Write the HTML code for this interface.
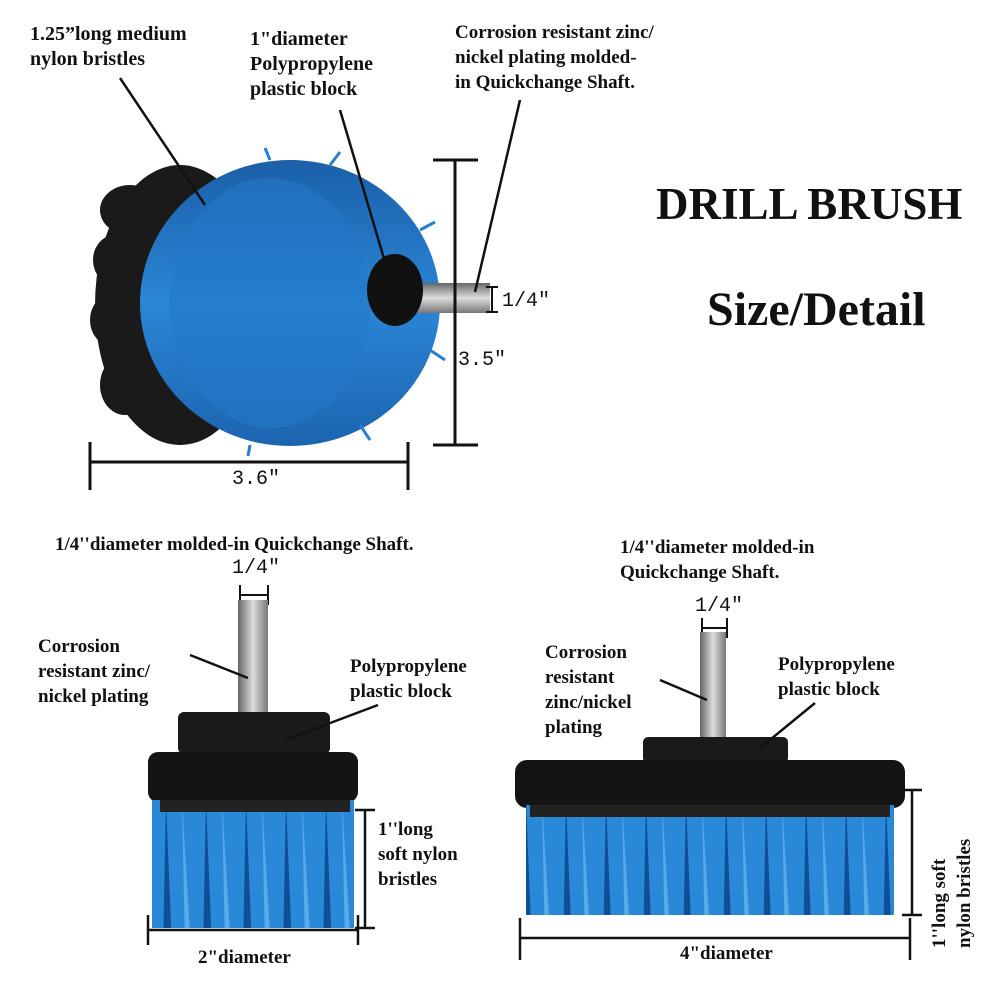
<!DOCTYPE html>
<html><head><meta charset="utf-8">
<style>
html,body{margin:0;padding:0;background:#fff;}
svg{display:block;}
text{font-family:"Liberation Serif",serif;font-weight:bold;fill:#111;}
.m{font-family:"Liberation Mono",monospace;font-weight:normal;}
</style></head><body>
<svg width="1000" height="1000" viewBox="0 0 1000 1000" xmlns="http://www.w3.org/2000/svg">
<defs>
<linearGradient id="bl" x1="0" x2="0" y1="0" y2="1">
<stop offset="0" stop-color="#1b5fa8"/><stop offset="0.5" stop-color="#2a86d6"/><stop offset="1" stop-color="#1c64b0"/>
</linearGradient>
<pattern id="str" width="40" height="200" patternUnits="userSpaceOnUse">
<rect width="40" height="200" fill="#2a88d8"/>
<path d="M6 0 L14 200 L2 200Z" fill="#0e4f96"/>
<path d="M22 0 L26 200 L34 200Z" fill="#5aaae8"/>
</pattern>
<linearGradient id="sh" x1="0" x2="1"><stop offset="0" stop-color="#666"/><stop offset="0.5" stop-color="#ddd"/><stop offset="1" stop-color="#777"/></linearGradient>
<linearGradient id="shv" x1="0" x2="0" y1="0" y2="1"><stop offset="0" stop-color="#666"/><stop offset="0.5" stop-color="#ddd"/><stop offset="1" stop-color="#777"/></linearGradient>
</defs>

<!-- top brush -->
<ellipse cx="180" cy="305" rx="85" ry="140" fill="#1a1a1a"/>
<g fill="#1a1a1a">
<ellipse cx="130" cy="210" rx="30" ry="25"/><ellipse cx="115" cy="260" rx="22" ry="25"/><ellipse cx="110" cy="320" rx="20" ry="25"/><ellipse cx="125" cy="385" rx="25" ry="30"/>
</g>
<ellipse cx="290" cy="303" rx="150" ry="143" fill="url(#bl)"/>
<g stroke="#2a7fd0" stroke-width="3">
<line x1="270" y1="160" x2="265" y2="148"/><line x1="330" y1="165" x2="340" y2="152"/><line x1="420" y1="230" x2="435" y2="222"/><line x1="430" y1="350" x2="445" y2="360"/><line x1="360" y1="425" x2="370" y2="440"/><line x1="250" y1="445" x2="248" y2="456"/>
</g>
<ellipse cx="270" cy="303" rx="100" ry="125" fill="#2378c8" opacity="0.6"/>
<rect x="410" y="283" width="80" height="30" fill="url(#shv)"/>
<ellipse cx="395" cy="290" rx="28" ry="36" fill="#111"/>

<!-- top dimension lines -->
<g stroke="#111" stroke-width="3" fill="none">
<line x1="455" y1="160" x2="455" y2="445"/>
<line x1="433" y1="160" x2="478" y2="160"/>
<line x1="433" y1="445" x2="478" y2="445"/>
<line x1="90" y1="462" x2="408" y2="462"/>
<line x1="90" y1="442" x2="90" y2="490"/>
<line x1="408" y1="442" x2="408" y2="490"/>
<line x1="492" y1="287" x2="492" y2="312" stroke-width="2"/>
<line x1="486" y1="287" x2="498" y2="287" stroke-width="2"/>
<line x1="486" y1="312" x2="498" y2="312" stroke-width="2"/>
</g>
<g stroke="#111" stroke-width="2.5">
<line x1="120" y1="78" x2="205" y2="205"/>
<line x1="340" y1="110" x2="385" y2="262"/>
<line x1="520" y1="100" x2="475" y2="292"/>
</g>
<text class="m" x="458" y="365" font-size="20">3.5″</text>
<text class="m" x="502" y="306" font-size="20">1/4″</text>
<text class="m" x="232" y="484" font-size="20">3.6″</text>

<text x="30" y="40" font-size="20">1.25”long medium</text>
<text x="30" y="65" font-size="20">nylon bristles</text>
<text x="250" y="45" font-size="20">1"diameter</text>
<text x="250" y="70" font-size="20">Polypropylene</text>
<text x="250" y="95" font-size="20">plastic block</text>
<text x="455" y="38" font-size="19">Corrosion resistant zinc/</text>
<text x="455" y="63" font-size="19">nickel plating molded-</text>
<text x="455" y="88" font-size="19">in Quickchange Shaft.</text>
<text x="656" y="219" font-size="45">DRILL BRUSH</text>
<text x="707" y="325" font-size="48">Size/Detail</text>

<!-- bottom left -->
<text x="55" y="550" font-size="19">1/4''diameter molded-in Quickchange Shaft.</text>
<text class="m" x="232" y="573" font-size="20">1/4″</text>
<g stroke="#111" stroke-width="2"><line x1="240" y1="595" x2="268" y2="595"/><line x1="240" y1="585" x2="240" y2="605"/><line x1="268" y1="585" x2="268" y2="605"/></g>
<rect x="238" y="600" width="30" height="115" fill="url(#sh)"/>
<rect x="178" y="712" width="152" height="42" rx="6" fill="#1a1a1a"/>
<rect x="148" y="752" width="210" height="50" rx="10" fill="#141414"/>
<rect x="152" y="800" width="202" height="128" fill="url(#str)"/>
<rect x="160" y="800" width="190" height="12" fill="#222"/>
<text x="38" y="652" font-size="19">Corrosion</text>
<text x="38" y="677" font-size="19">resistant zinc/</text>
<text x="38" y="702" font-size="19">nickel plating</text>
<text x="350" y="672" font-size="19">Polypropylene</text>
<text x="350" y="697" font-size="19">plastic block</text>
<g stroke="#111" stroke-width="2.5">
<line x1="190" y1="655" x2="248" y2="678"/>
<line x1="378" y1="705" x2="285" y2="740"/>
<line x1="148" y1="930" x2="358" y2="930"/>
<line x1="148" y1="915" x2="148" y2="945"/>
<line x1="358" y1="915" x2="358" y2="945"/>
<line x1="365" y1="810" x2="365" y2="928"/>
<line x1="355" y1="810" x2="375" y2="810"/>
<line x1="355" y1="928" x2="375" y2="928"/>
</g>
<text x="378" y="835" font-size="19">1''long</text>
<text x="378" y="860" font-size="19">soft nylon</text>
<text x="378" y="885" font-size="19">bristles</text>
<text x="198" y="963" font-size="19">2"diameter</text>

<!-- bottom right -->
<text x="620" y="553" font-size="19">1/4''diameter molded-in</text>
<text x="620" y="578" font-size="19">Quickchange Shaft.</text>
<text class="m" x="695" y="611" font-size="20">1/4″</text>
<g stroke="#111" stroke-width="2"><line x1="702" y1="628" x2="727" y2="628"/><line x1="702" y1="618" x2="702" y2="638"/><line x1="727" y1="618" x2="727" y2="638"/></g>
<rect x="700" y="632" width="26" height="108" fill="url(#sh)"/>
<rect x="643" y="737" width="145" height="26" rx="5" fill="#1a1a1a"/>
<rect x="515" y="760" width="390" height="48" rx="12" fill="#141414"/>
<rect x="526" y="805" width="368" height="110" fill="url(#str)"/>
<rect x="530" y="805" width="360" height="12" fill="#222"/>
<text x="545" y="658" font-size="19">Corrosion</text>
<text x="545" y="683" font-size="19">resistant</text>
<text x="545" y="708" font-size="19">zinc/nickel</text>
<text x="545" y="733" font-size="19">plating</text>
<text x="778" y="670" font-size="19">Polypropylene</text>
<text x="778" y="695" font-size="19">plastic block</text>
<g stroke="#111" stroke-width="2.5">
<line x1="660" y1="680" x2="707" y2="700"/>
<line x1="815" y1="703" x2="760" y2="748"/>
<line x1="520" y1="938" x2="910" y2="938"/>
<line x1="520" y1="918" x2="520" y2="960"/>
<line x1="910" y1="918" x2="910" y2="960"/>
<line x1="912" y1="790" x2="912" y2="915"/>
<line x1="902" y1="790" x2="922" y2="790"/>
<line x1="902" y1="915" x2="922" y2="915"/>
</g>
<text x="680" y="959" font-size="19">4"diameter</text>
<g transform="translate(945,948) rotate(-90)">
<text x="0" y="0" font-size="19">1''long soft</text>
<text x="0" y="25" font-size="19">nylon bristles</text>
</g>
</svg>
</body></html>
